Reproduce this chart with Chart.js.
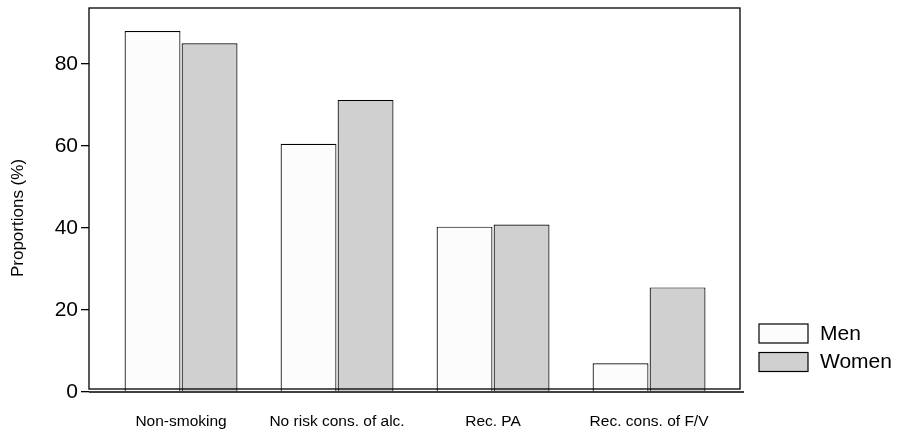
<!DOCTYPE html>
<html>
<head>
<meta charset="utf-8">
<script src="https://cdn.jsdelivr.net/npm/chart.js@4.4.1/dist/chart.umd.min.js"></script>
<style>
  html, body { margin: 0; padding: 0; background: #fff; }
  #wrap { width: 900px; height: 433px; }
</style>
</head>
<body>
<div id="wrap"><canvas id="chart"></canvas></div>
<script>
// ===== Data =====
const CATEGORIES = ["Non-smoking", "No risk cons. of alc.", "Rec. PA", "Rec. cons. of F/V"];
const MEN = [88, 60.5, 40.3, 7];
const WOMEN = [85, 71.2, 40.8, 25.5];
const Y_TICKS = [0, 20, 40, 60, 80];
const Y_TITLE = "Proportions (%)";

const FONT = "'Liberation Sans', Arial, sans-serif";

// frame, y title and legend drawn around the plot
const framePlugin = {
  id: "frame",
  afterDraw(chart) {
    const { ctx, chartArea: a } = chart;
    ctx.save();
    ctx.strokeStyle = "#000";
    ctx.lineWidth = 1.3;
    // box
    ctx.strokeRect(a.left, a.top, a.right - a.left, a.bottom - 3 - a.top);
    // x axis line
    ctx.beginPath();
    ctx.moveTo(a.left, a.bottom);
    ctx.lineTo(a.right + 4, a.bottom);
    ctx.stroke();

    // y title
    ctx.fillStyle = "#000";
    ctx.font = "17px " + FONT;
    ctx.textAlign = "center";
    ctx.textBaseline = "middle";
    ctx.translate(18, 218);
    ctx.rotate(-Math.PI / 2);
    ctx.fillText(Y_TITLE, 0, 0);
    ctx.restore();

    // legend
    ctx.save();
    ctx.font = "21px " + FONT;
    ctx.textBaseline = "middle";
    ctx.textAlign = "left";
    chart.data.datasets.forEach((ds, i) => {
      const y = 324 + i * 28.5;
      ctx.fillStyle = ds.backgroundColor;
      ctx.fillRect(759, y, 49, 19);
      ctx.strokeStyle = "#000";
      ctx.lineWidth = 1.2;
      ctx.strokeRect(759, y, 49, 19);
      ctx.fillStyle = "#000";
      ctx.fillText(ds.label, 820, y + 10);
    });
    ctx.restore();
  },
};

new Chart(document.getElementById("chart"), {
  type: "bar",
  data: {
    datasets: [
      {
        label: "Men",
        data: MEN.map((v, i) => ({ x: i, y: v })),
        backgroundColor: "#fcfcfc",
        borderColor: "#000",
        borderWidth: 1.2,
      },
      {
        label: "Women",
        data: WOMEN.map((v, i) => ({ x: i, y: v })),
        backgroundColor: "#d0d0d0",
        borderColor: "#000",
        borderWidth: 1.2,
      },
    ],
  },
  options: {
    responsive: true,
    maintainAspectRatio: false,
    animation: false,
    layout: { padding: { top: 8, right: 160, left: 0, bottom: 0 } },
    datasets: { bar: { categoryPercentage: 0.731, barPercentage: 0.98 } },
    plugins: {
      legend: { display: false },
      tooltip: { enabled: false },
    },
    scales: {
      x: {
        type: "linear",
        offset: false,
        min: -0.59,
        max: 3.583,
        afterBuildTicks: (s) => { s.ticks = CATEGORIES.map((_, i) => ({ value: i })); },
        afterFit: (s) => { s.height = 41; s.paddingLeft = 0; s.paddingRight = 0; },
        grid: { display: false, offset: false },
        border: { display: false },
        ticks: {
          callback: (v) => CATEGORIES[v],
          color: "#000",
          font: { family: FONT, size: 15.5 },
          padding: 12,
          maxRotation: 0,
          autoSkip: false,
        },
      },
      y: {
        min: 0,
        max: 93.6,
        afterBuildTicks: (s) => { s.ticks = Y_TICKS.map((v) => ({ value: v })); },
        afterFit: (s) => { s.width = 89; s.paddingTop = 0; s.paddingBottom = 0; },
        grid: {
          drawOnChartArea: false,
          drawTicks: true,
          tickLength: 8,
          color: "#000",
          lineWidth: 1.3,
        },
        border: { display: false },
        ticks: {
          color: "#000",
          font: { family: FONT, size: 21 },
          padding: 3,
        },
      },
    },
  },
  plugins: [framePlugin],
});
</script>
</body>
</html>
